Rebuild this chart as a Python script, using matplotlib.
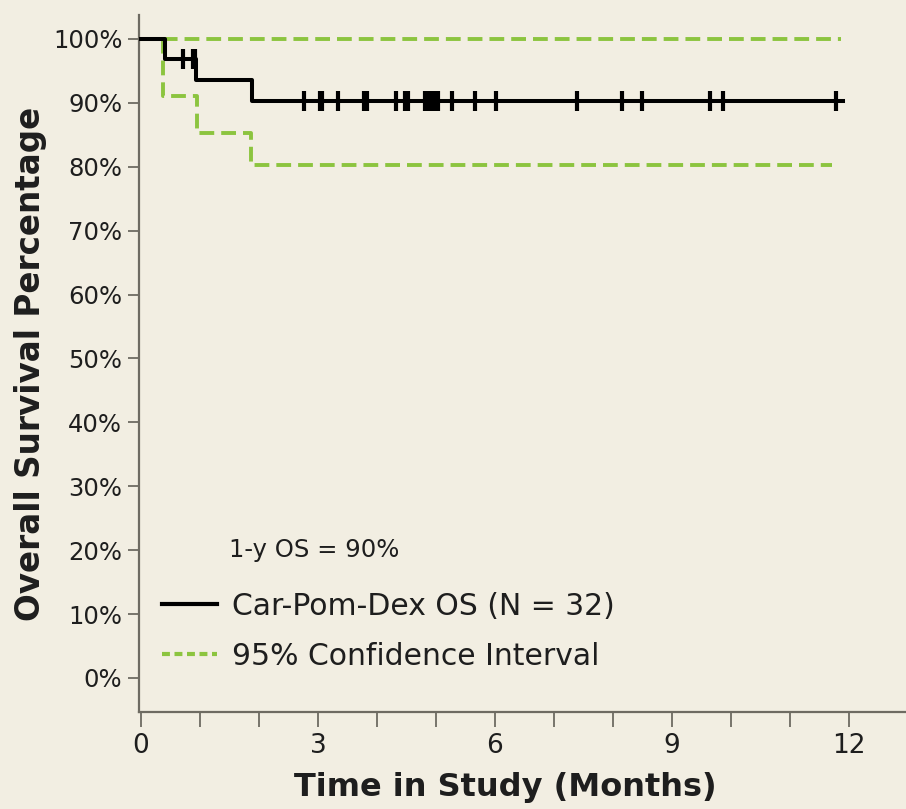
import numpy as np
import matplotlib
matplotlib.use("Agg")
from matplotlib import pyplot as plt
from matplotlib.lines import Line2D

# Kaplan-Meier estimate (step post)
km_t = [0.0, 0.40, 0.94, 1.88, 11.9]
km_s = [100.0, 96.9, 93.6, 90.3, 90.3]

# censored patients (months)
cens_t = [0.71, 0.88, 0.92,
          2.76, 3.03, 3.07, 3.34, 3.78, 3.84, 4.33, 4.47, 4.53,
          4.81, 4.87, 4.93, 4.98, 5.04, 5.28, 5.66, 6.02,
          7.40, 8.15, 8.49, 9.64, 9.86, 11.78]

# 95% confidence interval
up_t = [0.0, 11.86]
up_s = [100.0, 100.0]
lo_t = [0.0, 0.37, 0.95, 1.87, 11.72]
lo_s = [100.0, 91.0, 85.3, 80.3, 80.3]

BG = "#F2EEE2"
GREEN = "#8CC43F"
GRAY = "#6E6B62"
TXT = "#1E1E1E"

fig = plt.figure(figsize=(9.06, 8.09), dpi=100, facecolor=BG)
ax = fig.add_axes([0.1534, 0.12, 0.8466, 0.8615], facecolor=BG)

ax.step(up_t, up_s, where="post", color=GREEN, lw=2.8, dashes=(3.8, 1.8), zorder=2)
ax.step(lo_t, lo_s, where="post", color=GREEN, lw=2.8, dashes=(3.8, 1.8), zorder=2)
ax.step(km_t, km_s, where="post", color="black", lw=2.9, zorder=3)

# censor marks sit on the curve
idx = np.searchsorted(km_t, cens_t, side="right") - 1
cens_s = np.array(km_s)[idx]
ax.plot(cens_t, cens_s, ls="none", marker="|", ms=15, mew=3.0, color="black", zorder=4)

ax.set_xlim(-0.034, 12.97)
ax.set_ylim(-5.32, 103.76)
ax.set_xticks([0, 3, 6, 9, 12])
ax.set_xticks(np.arange(0, 13), minor=True)
ax.set_yticks(np.arange(0, 101, 10))
ax.set_yticklabels([f"{v}%" for v in range(0, 101, 10)])

for s in ["top", "right"]:
    ax.spines[s].set_visible(False)
for s in ["left", "bottom"]:
    ax.spines[s].set_color(GRAY)
    ax.spines[s].set_linewidth(1.6)

ax.tick_params(axis="y", direction="out", length=8, width=1.3, color=GRAY,
               labelsize=17.5, labelcolor=TXT, pad=4)
ax.tick_params(axis="x", which="both", direction="out", length=11, width=1.3,
               color=GRAY, labelsize=19, labelcolor=TXT, pad=4)

ax.set_ylabel("Overall Survival Percentage", fontsize=23.5, fontweight="bold",
              labelpad=4, color=TXT)
ax.set_xlabel("Time in Study (Months)", fontsize=23, fontweight="bold", color=TXT)
ax.xaxis.set_label_coords(0.478, -0.086)

ax.text(1.5, 20.0, "1-y OS = 90%", fontsize=17.5, va="center", ha="left", color=TXT)

handles = [Line2D([], [], color="black", lw=3.0),
           Line2D([], [], color=GREEN, lw=3.0, dashes=(1.9, 1.1))]
leg = ax.legend(handles, ["Car-Pom-Dex OS (N = 32)", "95% Confidence Interval"],
                loc="center left", bbox_to_anchor=(0.36, 7.3),
                bbox_transform=ax.transData, frameon=False, fontsize=21.5,
                handlelength=1.85, handletextpad=0.5, labelspacing=0.7,
                borderpad=0, borderaxespad=0)
for t in leg.get_texts():
    t.set_color(TXT)

fig.savefig("out.png", dpi=100, facecolor=BG)
